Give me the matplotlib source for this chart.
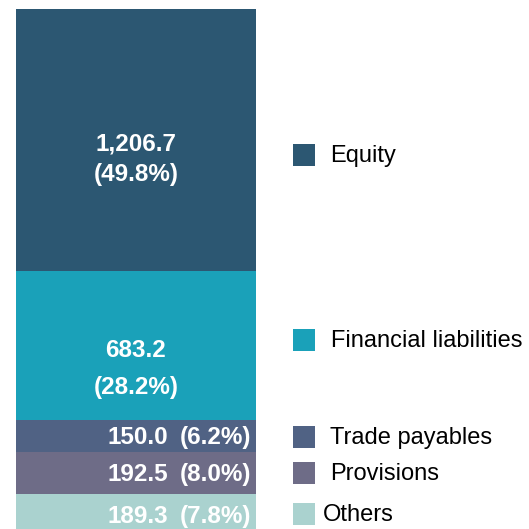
import matplotlib.pyplot as plt
from matplotlib.patches import Rectangle

plt.rcParams["font.family"] = ["Liberation Sans", "DejaVu Sans"]

# bottom to top
categories = ["Others", "Provisions", "Trade payables", "Financial liabilities", "Equity"]
values = [189.3, 192.5, 150.0, 683.2, 1206.7]
shares = [7.8, 8.0, 6.2, 28.2, 49.8]
colors = ["#aad2cf", "#6e6c87", "#506284", "#1aa1b9", "#2c5772"]

# legend rows (pixel y from top of image) - layout only
legend_y = [515, 474, 438, 341, 156]
legend_text_x = [323, 330, 330, 331, 330]

fig = plt.figure(figsize=(5.29, 5.29), dpi=100)
ax = fig.add_axes([0, 0, 1, 1])
ax.set_xlim(0, 529)
ax.set_ylim(27.6, 2463.7)
ax.axis("off")

bottom = 0
for cat, val, share, col in zip(categories, values, shares, colors):
    ax.bar(136, val, width=240, bottom=bottom, color=col, linewidth=0)
    mid = bottom + val / 2
    if val > 500:
        v_off, p_off = (-4, -34) if cat == "Equity" else (-5, -42)
        ax.annotate(f"{val:,.1f}", (136, mid), xytext=(0, v_off), textcoords="offset pixels",
                    ha="center", va="center", color="white", fontsize=17.5, fontweight="bold")
        ax.annotate(f"({share:.1f}%)", (136, mid), xytext=(0, p_off), textcoords="offset pixels",
                    ha="center", va="center", color="white", fontsize=17.5, fontweight="bold")
    else:
        ax.annotate(f"{val:,.1f}", (168, mid), xytext=(0, -2), textcoords="offset pixels",
                    ha="right", va="center", color="white", fontsize=17.5, fontweight="bold")
        ax.annotate(f"({share:.1f}%)", (180, mid), xytext=(0, -2), textcoords="offset pixels",
                    ha="left", va="center", color="white", fontsize=17.5, fontweight="bold")
    bottom += val

# legend drawn in pixel space
lax = fig.add_axes([0, 0, 1, 1])
lax.set_xlim(0, 529)
lax.set_ylim(529, 0)
lax.axis("off")
for cat, col, y, tx in zip(categories, colors, legend_y, legend_text_x):
    lax.add_patch(Rectangle((293, y - 12), 22, 22, color=col, linewidth=0))
    lax.text(tx, y, cat, ha="left", va="center", fontsize=17, color="black")

fig.savefig("out.png", dpi=100)
